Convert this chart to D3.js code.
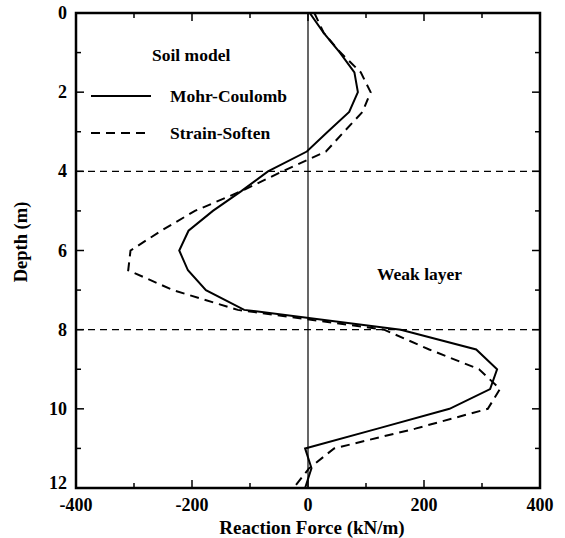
<!DOCTYPE html>
<html><head><meta charset="utf-8">
<script src="https://cdn.jsdelivr.net/npm/d3@7"></script>
<style>
body{margin:0;background:#fff;}
text{font-family:"Liberation Serif","Times New Roman",serif;font-weight:bold;fill:#000;}
</style></head>
<body>
<svg id="chart" width="565" height="538"></svg>
<script>
const depth = [0,0.5,1,1.5,2,2.5,3,3.5,4,4.5,5,5.5,6,6.5,7,7.5,8,8.5,9,9.5,10,10.5,11,11.5,12];
const mohrCoulomb = [3,27,55,80,86,71,34,-2,-69,-115,-164,-206,-222,-207,-176,-110,160,290,326,314,244,120,-5,6,-5];
const strainSoften = [11,27,56,91,108,94,62,31,-44,-115,-195,-253,-306,-310,-233,-121,131,209,295,331,310,185,45,2,-25];
const xTicks = [-400,-200,0,200,400];
const yTicks = [0,2,4,6,8,10,12];
const layerDepths = [4,8];
const seriesNames = ["Mohr-Coulomb","Strain-Soften"];

const svg = d3.select("#chart");
const L=76,R=540,T=13,B=488;
const x = d3.scaleLinear().domain([-400,400]).range([L,R]);
const y = d3.scaleLinear().domain([0,12]).range([T,B]);

// tick marks (inward) on all sides
const minorX = d3.range(-400,401,100), minorY = d3.range(0,12.01,1);
const tg = svg.append("g").attr("stroke","#000").attr("stroke-width",1.5);
minorX.forEach(v=>{
  const len = (v%200===0)?8:5;
  tg.append("line").attr("x1",x(v)).attr("x2",x(v)).attr("y1",B).attr("y2",B-len);
  tg.append("line").attr("x1",x(v)).attr("x2",x(v)).attr("y1",T).attr("y2",T+len);
});
minorY.forEach(v=>{
  const len = (v%2===0)?8:5;
  tg.append("line").attr("y1",y(v)).attr("y2",y(v)).attr("x1",L).attr("x2",L+len);
  tg.append("line").attr("y1",y(v)).attr("y2",y(v)).attr("x1",R).attr("x2",R-len);
});

// zero line
svg.append("line").attr("x1",x(0)).attr("x2",x(0)).attr("y1",T).attr("y2",B)
  .attr("stroke","#000").attr("stroke-width",1.2);
// layer boundaries
layerDepths.forEach(d=>{
  svg.append("line").attr("x1",L).attr("x2",R).attr("y1",y(d)).attr("y2",y(d))
    .attr("stroke","#000").attr("stroke-width",1.2).attr("stroke-dasharray","7,5");
});

const line = d3.line().x(d=>x(d[0])).y(d=>y(d[1]));
svg.append("path").datum(mohrCoulomb.map((v,i)=>[v,depth[i]])).attr("d",line)
  .attr("fill","none").attr("stroke","#000").attr("stroke-width",2);
svg.append("path").datum(strainSoften.map((v,i)=>[v,depth[i]])).attr("d",line)
  .attr("fill","none").attr("stroke","#000").attr("stroke-width",2).attr("stroke-dasharray","9,6");

// frame
svg.append("rect").attr("x",L).attr("y",T).attr("width",R-L).attr("height",B-T)
  .attr("fill","none").attr("stroke","#000").attr("stroke-width",2.5);

// tick labels
xTicks.forEach(v=>{
  svg.append("text").attr("x",x(v)).attr("y",511).attr("text-anchor","middle")
    .attr("font-size",18).text(v);
});
yTicks.forEach(v=>{
  svg.append("text").attr("x",67).attr("y",y(v)+6 - (v===12?5:0)).attr("text-anchor","end")
    .attr("font-size",18).text(v);
});

// axis titles
svg.append("text").attr("x",312).attr("y",534).attr("text-anchor","middle")
  .attr("font-size",19).text("Reaction Force (kN/m)");
svg.append("text").attr("transform","translate(27,242) rotate(-90)").attr("text-anchor","middle")
  .attr("font-size",18.5).text("Depth (m)");

// legend
svg.append("text").attr("x",152).attr("y",61).attr("font-size",17.5).text("Soil model");
svg.append("line").attr("x1",91).attr("x2",151).attr("y1",96).attr("y2",96)
  .attr("stroke","#000").attr("stroke-width",2);
svg.append("text").attr("x",170).attr("y",102).attr("font-size",17.5).text(seriesNames[0]);
svg.append("line").attr("x1",91).attr("x2",151).attr("y1",133).attr("y2",133)
  .attr("stroke","#000").attr("stroke-width",2).attr("stroke-dasharray","9,6");
svg.append("text").attr("x",170).attr("y",139).attr("font-size",17.5).text(seriesNames[1]);

svg.append("text").attr("x",377).attr("y",280).attr("font-size",17.5).text("Weak layer");
</script>
</body></html>
